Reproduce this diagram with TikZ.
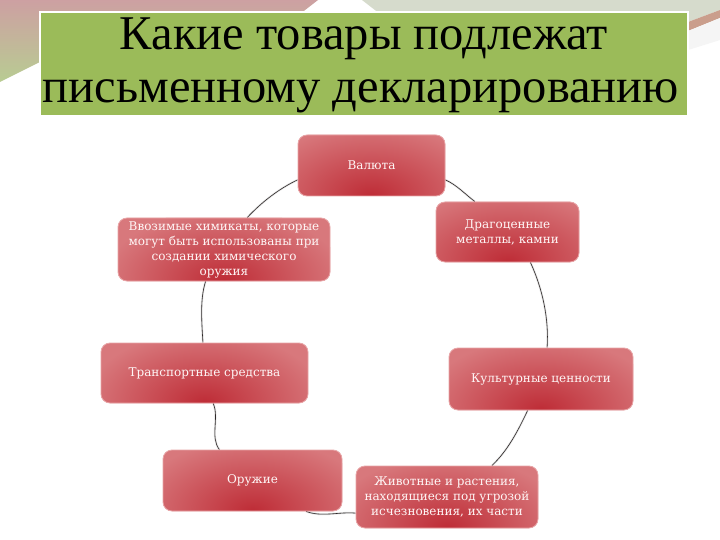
\documentclass[tikz,border=0pt]{standalone}
\usepackage{fontspec}
\setmainfont{Liberation Serif}
\newfontfamily\boxfont{DejaVu Serif}
\usetikzlibrary{calc}
\definecolor{titlegreen}{RGB}{155,187,89}
\definecolor{boxbase}{RGB}{216,120,124}
\definecolor{boxdark}{RGB}{190,44,54}
\definecolor{boxedge}{RGB}{232,165,167}
\definecolor{boxtext}{RGB}{255,246,246}
\definecolor{linkcol}{RGB}{45,40,40}
\definecolor{decopink}{RGB}{205,160,162}
\definecolor{decogreen}{RGB}{184,204,146}
\definecolor{decogray}{RGB}{214,219,204}
\definecolor{decobrown}{RGB}{202,158,140}
\pgfdeclarelayer{bg}
\pgfsetlayers{bg,main}
\begin{document}
\begin{tikzpicture}[x=1pt,y=-1pt,
  item/.style={rectangle, rounded corners=9pt, fill=boxbase, draw=boxedge,
    line width=0.8pt, inner sep=0pt, align=center, text=boxtext,
    font=\boxfont\fontsize{12}{15}\selectfont,
    path picture={\shade[inner color=boxdark, outer color=boxbase]
      (path picture bounding box.south) ellipse [x radius=120pt, y radius=72pt];}},
  link/.style={draw=linkcol, line width=0.6pt, preaction={draw=gray!22, line width=2pt}},
  titletext/.style={anchor=base, text=black, inner sep=0pt}
]
\useasboundingbox (0,0) rectangle (720,540);
\begin{pgfonlayer}{bg}
\fill[white] (0,0) rectangle (720,540);
% top decorations
\shade[top color=decopink, bottom color=decogreen] (0,0) -- (318,0) -- (300,14) -- (40,62) -- (0,82) -- cycle;
\fill[decogray] (362,0) -- (720,0) -- (720,10) -- (688,22) -- (688,14) -- (380,14) -- cycle;
\fill[decobrown] (688,22) -- (720,10) -- (720,18) -- (688,31) -- cycle;
\fill[gray!8] (688,31) -- (720,18) -- (720,40) -- (688,50) -- cycle;
\end{pgfonlayer}

\node[fill=titlegreen, draw=white, line width=2pt, minimum width=648pt, minimum height=104pt, inner sep=0pt] (titlebox) at (364,64) {};
\node[titletext, font=\fontsize{48.5}{48.5}\selectfont] (title1) at (364,50) {Какие товары подлежат};
\node[titletext, font=\fontsize{48.5}{48.5}\selectfont] (title2) at (361,103) {письменному декларированию};

\node[item, minimum width=147pt, minimum height=61pt] (valuta) at (371.5,165.5) {Валюта};
\node[item, minimum width=212pt, minimum height=63pt] (vvoz) at (224,249.5) {Ввозимые химикаты, которые\\могут быть использованы при\\создании химического\\оружия};
\node[item, minimum width=143pt, minimum height=60pt] (drag) at (507.5,232) {Драгоценные\\металлы, камни};
\node[item, minimum width=207pt, minimum height=60pt] (trans) at (204.5,373) {Транспортные средства};
\node[item, minimum width=184pt, minimum height=62pt] (kult) at (541,379) {Культурные ценности};
\node[item, minimum width=179pt, minimum height=61pt] (oruzh) at (252.5,480.5) {Оружие};
\node[item, minimum width=182pt, minimum height=62pt] (zhiv) at (447,497) {Животные и растения,\\находящиеся под угрозой\\исчезновения, их части};

\begin{pgfonlayer}{bg}
\draw[link] (vvoz.54) .. controls +(14,-15) and +(-19,9) .. (valuta.191);
\draw[link] (valuta.349) .. controls +(11.5,5.2) and +(-10,-7.6) .. (drag.137);
\draw[link] (drag.307) .. controls +(12,26) and +(2,-29) .. (kult.79);
\draw[link] (kult.247) .. controls +(-9.5,20) and +(16,-15) .. (zhiv.35);
\draw[link] (zhiv.190) .. controls +(-17,-1.5) and +(16,6) .. (oruzh.330);
\draw[link] (oruzh.137) .. controls +(-9.6,-12.8) and +(6.3,14.7) .. (trans.286);
\draw[link] (trans.93) .. controls +(-1,-20) and +(-6,19) .. (vvoz.240);
\end{pgfonlayer}
\end{tikzpicture}
\end{document}
